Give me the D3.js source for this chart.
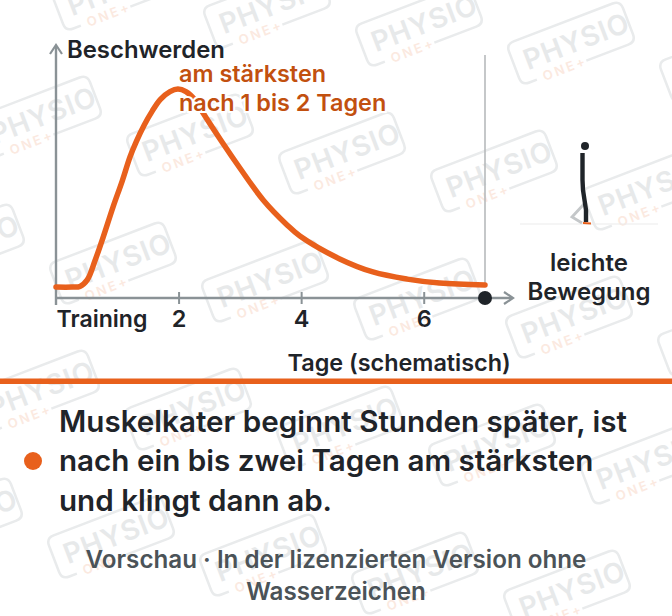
<!DOCTYPE html>
<html lang="de">
<head>
<meta charset="utf-8">
<script src="https://cdn.jsdelivr.net/npm/d3@7/dist/d3.min.js"></script>
<style>
html,body{margin:0;padding:0;background:#fff}
svg{display:block}
text{font-family:Inter,"Noto Sans",sans-serif}
</style>
</head>
<body>
<svg id="c" width="672" height="616"></svg>
<script>
const days = [0,.26,.39,.51,.64,.77,.93,1.08,1.21,1.31,1.44,1.57,1.70,1.86,1.99,2.12,2.27,2.40,2.72,3.00,3.38,3.77,3.98,4.63,5.17,5.73,6.26,7];
const pain = [5.2,5.2,5.5,8.6,18.1,29,43.3,55.7,67.4,74.5,82.4,89,94.5,98.3,99.5,98.3,94.3,88.1,73.8,61.9,46.7,34.8,29.5,18.6,12.4,9,7.1,6.2];
const tickDays = [2,4,6];
const tickLabels = ["2","4","6"];
const yTitle = "Beschwerden";
const xTitle = "Tage (schematisch)";
const startLabel = "Training";
const peakLabel = ["am stärksten","nach 1 bis 2 Tagen"];
const sideLabel = ["leichte","Bewegung"];
const message = ["Muskelkater beginnt Stunden später, ist","nach ein bis zwei Tagen am stärksten","und klingt dann ab."];
const footer = ["Vorschau · In der lizenzierten Version ohne","Wasserzeichen"];

const ORANGE="#e8601c", ORANGE_TXT="#c2500f", INK="#1f2429", AXIS="#8a9296";
const svg=d3.select("#c");
const x=d3.scaleLinear().domain([0,7]).range([56,485]);
const y=d3.scaleLinear().domain([0,100]).range([298,88]);

// watermark
const wm=svg.append("g");
const ax=152, ay=18, bx=-77, by=128;
for(let r=-1;r<=4;r++){
  for(let c=-2;c<=4;c++){
    const cx=190+c*ax+r*bx, cy=135+c*ay+r*by;
    if(cx<-90||cx>760||cy<-60||cy>680) continue;
    const g=wm.append("g").attr("transform",`translate(${cx},${cy}) rotate(-21)`);
    g.append("path")
      .attr("d","M-45,22 H-53 Q-61,22 -61,14 V-14 Q-61,-22 -53,-22 H53 Q61,-22 61,-14 V14 Q61,22 53,22 H8")
      .attr("fill","none").attr("stroke","#e9ebec").attr("stroke-width",2.5);
    g.append("text").attr("x",-50).attr("y",10).attr("font-size",28).attr("font-weight",600)
      .attr("letter-spacing",0.8).attr("fill","#e7e9ea").text("PHYSIO");
    g.append("text").attr("x",-38).attr("y",26).attr("font-size",13).attr("font-weight",600)
      .attr("letter-spacing",2.5).attr("fill","#fbe9e0").text("ONE+");
  }
}

// side vertical line
svg.append("line").attr("x1",x(7)).attr("x2",x(7)).attr("y1",55).attr("y2",285)
  .attr("stroke","#b7babc").attr("stroke-width",1.6);

// axes
const xAxis=svg.append("g").attr("transform",`translate(0,${y(0)})`)
  .call(d3.axisBottom(x).tickValues(tickDays).tickSize(0).tickFormat((d,i)=>tickLabels[i]));
xAxis.select(".domain").remove();
xAxis.selectAll("text").attr("font-size",23.5).attr("font-weight",600).attr("fill",INK)
  .attr("y",0).attr("dy",0).attr("transform","translate(0,29)");
xAxis.selectAll(".tick line").attr("y1",-6).attr("y2",6).attr("stroke",AXIS).attr("stroke-width",2);
svg.append("line").attr("x1",x(0)).attr("x2",512).attr("y1",y(0)).attr("y2",y(0)).attr("stroke",AXIS).attr("stroke-width",2.4);
svg.append("line").attr("x1",x(0)).attr("x2",x(0)).attr("y1",46).attr("y2",y(0)+7).attr("stroke",AXIS).attr("stroke-width",2.4);
svg.append("path").attr("d",d3.line()([[x(0)-6,54],[x(0),45],[x(0)+6,54]])).attr("fill","none").attr("stroke",AXIS).attr("stroke-width",2.2);
svg.append("path").attr("d",d3.line()([[504,292],[513,298],[504,304]])).attr("fill","none").attr("stroke",AXIS).attr("stroke-width",2.2);

// curve
svg.append("path").datum(days.map((d,i)=>[d,pain[i]]))
  .attr("d",d3.line().x(d=>x(d[0])).y(d=>y(d[1])).curve(d3.curveCatmullRom.alpha(0.5)))
  .attr("fill","none").attr("stroke",ORANGE).attr("stroke-width",5.5).attr("stroke-linecap","round");

svg.append("circle").attr("cx",x(7)).attr("cy",y(0)).attr("r",7).attr("fill",INK);

// labels
svg.append("text").attr("x",67).attr("y",58).attr("font-size",23.9).attr("font-weight",600).attr("fill",INK).text(yTitle);
svg.append("text").attr("x",56.5).attr("y",327).attr("font-size",23.1).attr("font-weight",600).attr("fill",INK).text(startLabel);
svg.append("text").attr("x",287.5).attr("y",371).attr("font-size",23.4).attr("font-weight",600).attr("fill",INK).text(xTitle);
peakLabel.forEach((t,i)=>svg.append("text").attr("x",179).attr("y",82+i*29).attr("font-size",23.4).attr("font-weight",600)
  .attr("fill",ORANGE_TXT).attr("stroke","#fff").attr("stroke-width",4).attr("paint-order","stroke").text(t));

// stick figure
svg.append("line").attr("x1",520).attr("x2",658).attr("y1",224).attr("y2",224).attr("stroke","#ececec").attr("stroke-width",1.2);
svg.append("path").attr("d",d3.line()([[584,204],[572,217],[582,223]])).attr("fill","none").attr("stroke","#c4c7c9").attr("stroke-width",2.8);
svg.append("path").attr("d",d3.line()([[582.5,153],[582.5,180],[583,190],[586,210],[586,222]])).attr("fill","none").attr("stroke",INK).attr("stroke-width",4.4).attr("stroke-linejoin","round");
svg.append("circle").attr("cx",585).attr("cy",146).attr("r",4).attr("fill",INK);
svg.append("line").attr("x1",583).attr("x2",591).attr("y1",223).attr("y2",223.5).attr("stroke",ORANGE).attr("stroke-width",2);
sideLabel.forEach((t,i)=>svg.append("text").attr("x",589).attr("y",271+i*29).attr("text-anchor","middle").attr("font-size",24).attr("font-weight",600).attr("fill",INK).text(t));

// rule
svg.append("rect").attr("x",0).attr("y",378.5).attr("width",672).attr("height",5.5).attr("fill",ORANGE);

// message
svg.append("circle").attr("cx",33).attr("cy",461).attr("r",9).attr("fill",ORANGE);
message.forEach((t,i)=>svg.append("text").attr("x",59).attr("y",431.7+i*39.6).attr("font-size",29.6).attr("font-weight",600).attr("fill",INK).text(t));
footer.forEach((t,i)=>svg.append("text").attr("x",336).attr("y",568+i*32).attr("text-anchor","middle").attr("font-size",24.2).attr("font-weight",600).attr("fill","#4b5358").text(t));
</script>
</body>
</html>
